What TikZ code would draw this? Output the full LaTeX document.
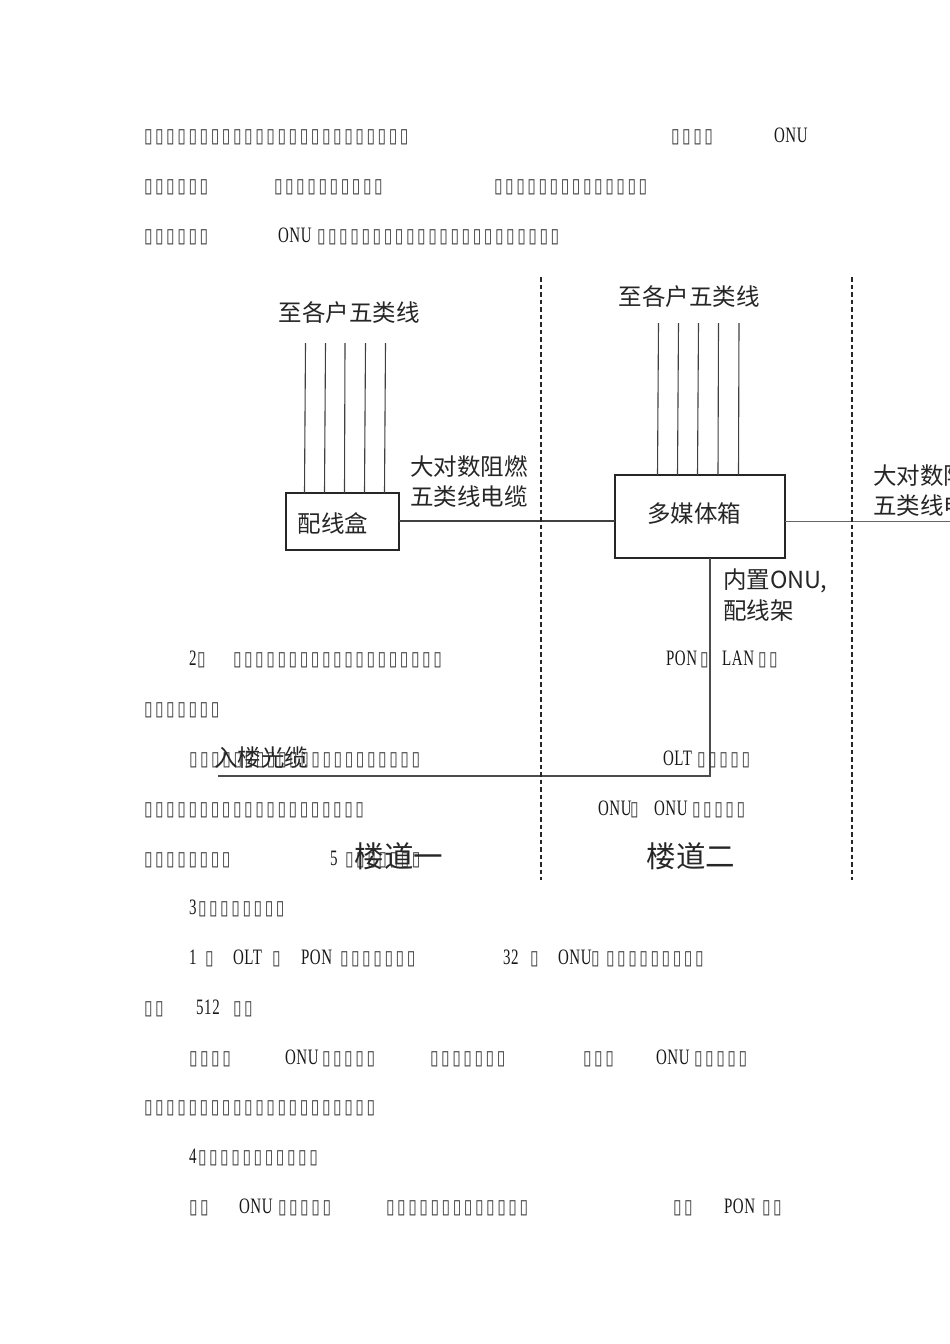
\documentclass[tikz,border=0pt]{standalone}
\usepackage{fontspec}
\setmainfont{Liberation Serif}
\newfontfamily\cjk{Noto Sans CJK SC}
\newfontfamily\latn[FakeStretch=0.68,LetterSpace=3]{Liberation Serif}
\newfontfamily\tofu[FakeStretch=0.78,LetterSpace=12.75]{DejaVu Sans}
\newcommand{\ttt}[1]{{\tofu\fontsize{20}{20}\selectfont\color{black!75}#1}}
\tikzset{
  bodytext/.style={anchor=base west,inner sep=0pt,outer sep=0pt,font=\latn\fontsize{22}{22}\selectfont,text=black!90},
  lbl/.style={inner sep=0pt,outer sep=0pt,font=\cjk\fontsize{23.5}{26}\selectfont,text=black!85},
  lblw/.style={lbl,anchor=west},
  lblb/.style={lbl,font=\cjk\fontsize{29.5}{30}\selectfont},
  boxs/.style={draw=black!85,line width=1.2pt,fill=white,inner sep=0pt,outer sep=0pt},
  wire/.style={draw=black!75,line width=1.1pt},
  cable/.style={draw=black!70,line width=1.5pt},
  divider/.style={draw=black!85,line width=1.1pt,dash pattern=on 4.5pt off 3pt},
}
\newcommand{\bt}[4]{\node[bodytext] (#1) at (#2,#3+7) {#4};}
\begin{document}
\begin{tikzpicture}[x=1pt,y=-1pt]
\useasboundingbox (0,0) rectangle (950,1344);
\fill[white] (0,0) rectangle (950,1344);
% body text
\bt{a1}{144}{135}{\ttt{▯▯▯▯▯▯▯▯▯▯▯▯▯▯▯▯▯▯▯▯▯▯▯▯}}
\bt{a2}{671}{135}{\ttt{▯▯▯▯}}
\bt{a3}{774}{135}{ONU}
\bt{b1}{144}{185}{\ttt{▯▯▯▯▯▯}}
\bt{b2}{274}{185}{\ttt{▯▯▯▯▯▯▯▯▯▯}}
\bt{b3}{494}{185}{\ttt{▯▯▯▯▯▯▯▯▯▯▯▯▯▯}}
\bt{c1}{144}{235}{\ttt{▯▯▯▯▯▯}}
\bt{c2}{278}{235}{ONU}
\bt{c3}{317}{235}{\ttt{▯▯▯▯▯▯▯▯▯▯▯▯▯▯▯▯▯▯▯▯▯▯}}
% diagram
\node[boxs,minimum width=113pt,minimum height=57pt] (peixian) at (342.5,521.5) {};
\node[boxs,minimum width=170pt,minimum height=83pt] (duomei) at (700,516.5) {};
\foreach \i/\tx/\bx in {1/305.5/304.5,2/325.5/324.5,3/345/344.5,4/365.5/364.5,5/385.5/384.5}{
  \coordinate (pt\i) at (\tx,343);
  \draw[wire] (pt\i) -- (\bx,493);
}
\foreach \i/\tx/\bx in {1/658.5/657.5,2/678.5/677.5,3/698.5/697.5,4/718.5/718,5/739/738.5}{
  \coordinate (dt\i) at (\tx,323);
  \draw[wire] (dt\i) -- (\bx,475);
}
\coordinate (rightend) at (950,521.5);
\coordinate (fiberL) at (218,776);
\coordinate (fiberC) at (710,776);
\coordinate (d1t) at (541,277);
\coordinate (d1b) at (541,880);
\coordinate (d2t) at (852,277);
\coordinate (d2b) at (852,880);
\draw[wire,line width=1.3pt] (peixian.east |- 0,521) -- (duomei.west |- 0,521);
\draw[cable,draw=black!60] (duomei.east |- 0,521.5) -- (rightend);
\draw[cable] (duomei.south -| fiberC) -- (fiberC) -- (fiberL);
\draw[divider] (d1t) -- (d1b);
\draw[divider] (d2t) -- (d2b);
% more body text
\bt{d1}{189}{658}{2}
\bt{d2}{197}{658}{\ttt{▯}}
\bt{d3}{233}{658}{\ttt{▯▯▯▯▯▯▯▯▯▯▯▯▯▯▯▯▯▯▯}}
\bt{d4}{666}{658}{PON}
\bt{d5}{700}{658}{\ttt{▯}}
\bt{d6}{722}{658}{LAN}
\bt{d7}{758}{658}{\ttt{▯▯}}
\bt{e1}{144}{708}{\ttt{▯▯▯▯▯▯▯}}
\bt{f1}{189}{758}{\ttt{▯▯▯▯▯▯▯▯▯▯▯▯▯▯▯▯▯▯▯▯▯}}
\bt{f2}{663}{758}{OLT}
\bt{f3}{697}{758}{\ttt{▯▯▯▯▯}}
\bt{g1}{144}{808}{\ttt{▯▯▯▯▯▯▯▯▯▯▯▯▯▯▯▯▯▯▯▯}}
\bt{g2}{598}{808}{ONU}
\bt{g3}{630}{808}{\ttt{▯}}
\bt{g4}{654}{808}{ONU}
\bt{g5}{692}{808}{\ttt{▯▯▯▯▯}}
\bt{h1}{144}{858}{\ttt{▯▯▯▯▯▯▯▯}}
\bt{h2}{330}{858}{5}
\bt{h3}{345}{858}{\ttt{▯▯▯▯▯▯▯}}
\bt{i1}{189}{907}{3}
\bt{i2}{198}{907}{\ttt{▯▯▯▯▯▯▯▯}}
\bt{j1}{189}{957}{1}
\bt{j2}{205}{957}{\ttt{▯}}
\bt{j3}{233}{957}{OLT}
\bt{j4}{272}{957}{\ttt{▯}}
\bt{j5}{301}{957}{PON}
\bt{j6}{340}{957}{\ttt{▯▯▯▯▯▯▯}}
\bt{j7}{503}{957}{32}
\bt{j8}{530}{957}{\ttt{▯}}
\bt{j9}{558}{957}{ONU}
\bt{j10}{591}{957}{\ttt{▯}}
\bt{j11}{606}{957}{\ttt{▯▯▯▯▯▯▯▯▯}}
\bt{k1}{144}{1007}{\ttt{▯▯}}
\bt{k2}{196}{1007}{512}
\bt{k3}{233}{1007}{\ttt{▯▯}}
\bt{l1}{189}{1057}{\ttt{▯▯▯▯}}
\bt{l2}{285}{1057}{ONU}
\bt{l3}{322}{1057}{\ttt{▯▯▯▯▯}}
\bt{l4}{430}{1057}{\ttt{▯▯▯▯▯▯▯}}
\bt{l5}{583}{1057}{\ttt{▯▯▯}}
\bt{l6}{656}{1057}{ONU}
\bt{l7}{694}{1057}{\ttt{▯▯▯▯▯}}
\bt{m1}{144}{1106}{\ttt{▯▯▯▯▯▯▯▯▯▯▯▯▯▯▯▯▯▯▯▯▯}}
\bt{n1}{189}{1156}{4}
\bt{n2}{198}{1156}{\ttt{▯▯▯▯▯▯▯▯▯▯▯}}
\bt{o1}{189}{1206}{\ttt{▯▯}}
\bt{o2}{239}{1206}{ONU}
\bt{o3}{278}{1206}{\ttt{▯▯▯▯▯}}
\bt{o4}{386}{1206}{\ttt{▯▯▯▯▯▯▯▯▯▯▯▯▯}}
\bt{o5}{673}{1206}{\ttt{▯▯}}
\bt{o6}{724}{1206}{PON}
\bt{o7}{762}{1206}{\ttt{▯▯}}
% diagram labels
\node[lbl] (t1) at (349,313) {至各户五类线};
\node[lbl] (t2) at (689,297) {至各户五类线};
\node[lblw] (t3) at (410,467) {大对数阻燃};
\node[lblw] (t4) at (410,497) {五类线电缆};
\node[lbl] (t5) at (333,523) {配线盒};
\node[lbl] (t6) at (694,514) {多媒体箱};
\node[lblw] (t7) at (873,476) {大对数阻燃};
\node[lblw] (t8) at (873,506) {五类线电缆};
\node[lblw] (t9) at (723,581) {内置ONU,};
\node[lblw] (t10) at (723,611) {配线架};
\node[lbl] (t11) at (261,758) {入楼光缆};
\node[lblb] (t12) at (399,856) {楼道一};
\node[lblb] (t13) at (691,856) {楼道二};
\end{tikzpicture}
\end{document}
